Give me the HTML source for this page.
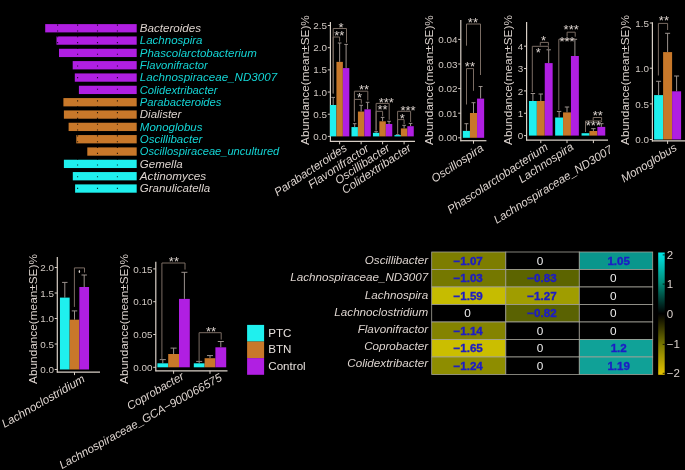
<!DOCTYPE html>
<html><head><meta charset="utf-8"><style>
html,body{margin:0;padding:0;background:#000;}
svg{display:block;will-change:transform;}
text{font-family:"Liberation Sans", sans-serif;}
</style></head><body>
<svg width="685" height="470" viewBox="0 0 685 470">
<rect width="685" height="470" fill="#000"/>
<rect x="45.20" y="24.10" width="91.50" height="8.30" fill="#b01fe2" />
<text x="139.80" y="32.10" font-size="11.5" fill="#ddd4cf" text-anchor="start" font-style="italic" textLength="61.23" lengthAdjust="spacingAndGlyphs">Bacteroides</text>
<rect x="56.50" y="36.43" width="80.20" height="8.30" fill="#b01fe2" />
<text x="139.80" y="44.43" font-size="11.5" fill="#14d4d4" text-anchor="start" font-style="italic">Lachnospira</text>
<rect x="59.00" y="48.76" width="77.70" height="8.30" fill="#b01fe2" />
<text x="139.80" y="56.76" font-size="11.5" fill="#14d4d4" text-anchor="start" font-style="italic">Phascolarctobacterium</text>
<rect x="72.70" y="61.09" width="64.00" height="8.30" fill="#b01fe2" />
<text x="139.80" y="69.09" font-size="11.5" fill="#14d4d4" text-anchor="start" font-style="italic" textLength="67.96" lengthAdjust="spacingAndGlyphs">Flavonifractor</text>
<rect x="74.80" y="73.42" width="61.90" height="8.30" fill="#b01fe2" />
<text x="139.80" y="81.42" font-size="11.5" fill="#14d4d4" text-anchor="start" font-style="italic" textLength="137.39" lengthAdjust="spacingAndGlyphs">Lachnospiraceae_ND3007</text>
<rect x="78.90" y="85.75" width="57.80" height="8.30" fill="#b01fe2" />
<text x="139.80" y="93.75" font-size="11.5" fill="#14d4d4" text-anchor="start" font-style="italic" textLength="77.70" lengthAdjust="spacingAndGlyphs">Colidextribacter</text>
<rect x="63.40" y="98.08" width="73.30" height="8.30" fill="#c8782a" />
<text x="139.80" y="106.08" font-size="11.5" fill="#14d4d4" text-anchor="start" font-style="italic" textLength="81.65" lengthAdjust="spacingAndGlyphs">Parabacteroides</text>
<rect x="63.90" y="110.41" width="72.80" height="8.30" fill="#c8782a" />
<text x="139.80" y="118.41" font-size="11.5" fill="#ddd4cf" text-anchor="start" font-style="italic">Dialister</text>
<rect x="68.60" y="122.74" width="68.10" height="8.30" fill="#c8782a" />
<text x="139.80" y="130.74" font-size="11.5" fill="#14d4d4" text-anchor="start" font-style="italic">Monoglobus</text>
<rect x="76.30" y="135.07" width="60.40" height="8.30" fill="#c8782a" />
<text x="139.80" y="143.07" font-size="11.5" fill="#14d4d4" text-anchor="start" font-style="italic">Oscillibacter</text>
<rect x="87.30" y="147.40" width="49.40" height="8.30" fill="#c8782a" />
<text x="139.80" y="155.40" font-size="11.5" fill="#14d4d4" text-anchor="start" font-style="italic" textLength="139.47" lengthAdjust="spacingAndGlyphs">Oscillospiraceae_uncultured</text>
<rect x="63.90" y="159.73" width="72.80" height="8.30" fill="#1ff0ee" />
<text x="139.80" y="167.73" font-size="11.5" fill="#ddd4cf" text-anchor="start" font-style="italic">Gemella</text>
<rect x="72.80" y="172.06" width="63.90" height="8.30" fill="#1ff0ee" />
<text x="139.80" y="180.06" font-size="11.5" fill="#ddd4cf" text-anchor="start" font-style="italic" textLength="66.39" lengthAdjust="spacingAndGlyphs">Actinomyces</text>
<rect x="75.10" y="184.39" width="61.60" height="8.30" fill="#1ff0ee" />
<text x="139.80" y="192.39" font-size="11.5" fill="#ddd4cf" text-anchor="start" font-style="italic">Granulicatella</text>
<line x1="57.6" y1="18.75" x2="57.6" y2="195" stroke="#000" stroke-opacity="0.8" stroke-width="1.1" stroke-dasharray="1.1 4.73"/>
<line x1="77.6" y1="18.75" x2="77.6" y2="195" stroke="#000" stroke-opacity="0.8" stroke-width="1.1" stroke-dasharray="1.1 4.73"/>
<line x1="97.5" y1="18.75" x2="97.5" y2="195" stroke="#000" stroke-opacity="0.8" stroke-width="1.1" stroke-dasharray="1.1 4.73"/>
<line x1="117.4" y1="18.75" x2="117.4" y2="195" stroke="#000" stroke-opacity="0.8" stroke-width="1.1" stroke-dasharray="1.1 4.73"/>
<text x="308.60" y="80.00" font-size="11.8" fill="#ddd4cf" text-anchor="middle" transform="rotate(-90 308.60 80.00)">Abundance(mean±SE)%</text>
<line x1="330.40" y1="22.00" x2="330.40" y2="141.80" stroke="#d9d0c7" stroke-width="1.2"/>
<line x1="329.90" y1="141.30" x2="415.00" y2="141.30" stroke="#d9d0c7" stroke-width="1.2"/>
<line x1="327.80" y1="136.40" x2="330.40" y2="136.40" stroke="#d9d0c7" stroke-width="1.0"/>
<text x="327.00" y="140.00" font-size="9.9" fill="#d0c8c2" text-anchor="end">0.0</text>
<line x1="327.80" y1="114.22" x2="330.40" y2="114.22" stroke="#d9d0c7" stroke-width="1.0"/>
<text x="327.00" y="117.82" font-size="9.9" fill="#d0c8c2" text-anchor="end">0.5</text>
<line x1="327.80" y1="92.04" x2="330.40" y2="92.04" stroke="#d9d0c7" stroke-width="1.0"/>
<text x="327.00" y="95.64" font-size="9.9" fill="#d0c8c2" text-anchor="end">1.0</text>
<line x1="327.80" y1="69.86" x2="330.40" y2="69.86" stroke="#d9d0c7" stroke-width="1.0"/>
<text x="327.00" y="73.46" font-size="9.9" fill="#d0c8c2" text-anchor="end">1.5</text>
<line x1="327.80" y1="47.68" x2="330.40" y2="47.68" stroke="#d9d0c7" stroke-width="1.0"/>
<text x="327.00" y="51.28" font-size="9.9" fill="#d0c8c2" text-anchor="end">2.0</text>
<line x1="327.80" y1="25.50" x2="330.40" y2="25.50" stroke="#d9d0c7" stroke-width="1.0"/>
<text x="327.00" y="29.10" font-size="9.9" fill="#d0c8c2" text-anchor="end">2.5</text>
<line x1="333.20" y1="97.40" x2="333.20" y2="104.99" stroke="#9a918c" stroke-width="1.0"/>
<line x1="331.39" y1="97.40" x2="335.01" y2="97.40" stroke="#9a918c" stroke-width="1.0"/>
<rect x="329.97" y="104.99" width="6.45" height="31.41" fill="#1ff0ee" />
<line x1="339.65" y1="43.00" x2="339.65" y2="61.88" stroke="#9a918c" stroke-width="1.0"/>
<line x1="337.84" y1="43.00" x2="341.46" y2="43.00" stroke="#9a918c" stroke-width="1.0"/>
<rect x="336.42" y="61.88" width="6.45" height="74.52" fill="#c8782a" />
<line x1="346.10" y1="44.40" x2="346.10" y2="68.09" stroke="#9a918c" stroke-width="1.0"/>
<line x1="344.29" y1="44.40" x2="347.91" y2="44.40" stroke="#9a918c" stroke-width="1.0"/>
<rect x="342.87" y="68.09" width="6.45" height="68.31" fill="#b01fe2" />
<line x1="339.65" y1="141.30" x2="339.65" y2="144.30" stroke="#d9d0c7" stroke-width="1.0"/>
<line x1="354.70" y1="123.70" x2="354.70" y2="127.08" stroke="#9a918c" stroke-width="1.0"/>
<line x1="352.89" y1="123.70" x2="356.51" y2="123.70" stroke="#9a918c" stroke-width="1.0"/>
<rect x="351.47" y="127.08" width="6.45" height="9.32" fill="#1ff0ee" />
<line x1="361.15" y1="105.30" x2="361.15" y2="111.56" stroke="#9a918c" stroke-width="1.0"/>
<line x1="359.34" y1="105.30" x2="362.96" y2="105.30" stroke="#9a918c" stroke-width="1.0"/>
<rect x="357.92" y="111.56" width="6.45" height="24.84" fill="#c8782a" />
<line x1="367.60" y1="102.30" x2="367.60" y2="109.34" stroke="#9a918c" stroke-width="1.0"/>
<line x1="365.79" y1="102.30" x2="369.41" y2="102.30" stroke="#9a918c" stroke-width="1.0"/>
<rect x="364.37" y="109.34" width="6.45" height="27.06" fill="#b01fe2" />
<line x1="361.15" y1="141.30" x2="361.15" y2="144.30" stroke="#d9d0c7" stroke-width="1.0"/>
<line x1="376.15" y1="131.70" x2="376.15" y2="132.85" stroke="#9a918c" stroke-width="1.0"/>
<line x1="374.34" y1="131.70" x2="377.96" y2="131.70" stroke="#9a918c" stroke-width="1.0"/>
<rect x="372.93" y="132.85" width="6.45" height="3.55" fill="#1ff0ee" />
<line x1="382.60" y1="117.40" x2="382.60" y2="121.32" stroke="#9a918c" stroke-width="1.0"/>
<line x1="380.79" y1="117.40" x2="384.41" y2="117.40" stroke="#9a918c" stroke-width="1.0"/>
<rect x="379.38" y="121.32" width="6.45" height="15.08" fill="#c8782a" />
<line x1="389.05" y1="121.30" x2="389.05" y2="123.98" stroke="#9a918c" stroke-width="1.0"/>
<line x1="387.24" y1="121.30" x2="390.86" y2="121.30" stroke="#9a918c" stroke-width="1.0"/>
<rect x="385.82" y="123.98" width="6.45" height="12.42" fill="#b01fe2" />
<line x1="382.60" y1="141.30" x2="382.60" y2="144.30" stroke="#d9d0c7" stroke-width="1.0"/>
<line x1="397.65" y1="134.70" x2="397.65" y2="135.07" stroke="#9a918c" stroke-width="1.0"/>
<line x1="395.84" y1="134.70" x2="399.46" y2="134.70" stroke="#9a918c" stroke-width="1.0"/>
<rect x="394.43" y="135.07" width="6.45" height="1.33" fill="#1ff0ee" />
<line x1="404.10" y1="125.30" x2="404.10" y2="128.42" stroke="#9a918c" stroke-width="1.0"/>
<line x1="402.29" y1="125.30" x2="405.91" y2="125.30" stroke="#9a918c" stroke-width="1.0"/>
<rect x="400.88" y="128.42" width="6.45" height="7.98" fill="#c8782a" />
<line x1="410.55" y1="123.40" x2="410.55" y2="126.20" stroke="#9a918c" stroke-width="1.0"/>
<line x1="408.74" y1="123.40" x2="412.36" y2="123.40" stroke="#9a918c" stroke-width="1.0"/>
<rect x="407.32" y="126.20" width="6.45" height="10.20" fill="#b01fe2" />
<line x1="404.10" y1="141.30" x2="404.10" y2="144.30" stroke="#d9d0c7" stroke-width="1.0"/>
<polyline points="333.20,93.50 333.20,28.50 346.50,28.50 346.50,42.70" fill="none" stroke="#7a6c63" stroke-width="1.0"/>
<polyline points="333.20,93.50 333.20,37.00 339.60,37.00 339.60,41.50" fill="none" stroke="#7a6c63" stroke-width="1.0"/>
<polyline points="354.40,121.50 354.40,91.20 367.80,91.20 367.80,100.40" fill="none" stroke="#7a6c63" stroke-width="1.0"/>
<polyline points="354.40,121.50 354.40,99.40 361.30,99.40 361.30,103.60" fill="none" stroke="#7a6c63" stroke-width="1.0"/>
<polyline points="376.10,130.50 376.10,103.40 389.20,103.40 389.20,119.80" fill="none" stroke="#7a6c63" stroke-width="1.0"/>
<polyline points="376.10,130.50 376.10,111.30 382.60,111.30 382.60,116.20" fill="none" stroke="#7a6c63" stroke-width="1.0"/>
<polyline points="397.60,133.70 397.60,111.30 410.60,111.30 410.60,122.00" fill="none" stroke="#7a6c63" stroke-width="1.0"/>
<polyline points="397.60,133.70 397.60,119.60 404.10,119.60 404.10,124.00" fill="none" stroke="#7a6c63" stroke-width="1.0"/>
<text x="341.00" y="31.80" font-size="13" fill="#ddd4cf" text-anchor="middle">*</text>
<text x="339.20" y="40.30" font-size="13" fill="#ddd4cf" text-anchor="middle">**</text>
<text x="364.00" y="93.80" font-size="13" fill="#ddd4cf" text-anchor="middle">**</text>
<text x="359.50" y="102.30" font-size="13" fill="#ddd4cf" text-anchor="middle">*</text>
<text x="386.30" y="106.50" font-size="13" fill="#ddd4cf" text-anchor="middle">***</text>
<text x="382.50" y="114.30" font-size="13" fill="#ddd4cf" text-anchor="middle">**</text>
<text x="408.00" y="114.50" font-size="13" fill="#ddd4cf" text-anchor="middle">***</text>
<text x="402.30" y="122.80" font-size="13" fill="#ddd4cf" text-anchor="middle">*</text>
<text x="347.85" y="149.80" font-size="11.6" fill="#ddd4cf" text-anchor="end" font-style="italic" transform="rotate(-33.5 347.85 149.80)">Parabacteroides</text>
<text x="369.75" y="150.30" font-size="11.6" fill="#ddd4cf" text-anchor="end" font-style="italic" transform="rotate(-33.5 369.75 150.30)">Flavonifractor</text>
<text x="390.80" y="149.80" font-size="11.6" fill="#ddd4cf" text-anchor="end" font-style="italic" transform="rotate(-33.5 390.80 149.80)">Oscillibacter</text>
<text x="412.10" y="149.80" font-size="11.6" fill="#ddd4cf" text-anchor="end" font-style="italic" transform="rotate(-33.5 412.10 149.80)">Colidextribacter</text>
<text x="432.60" y="80.00" font-size="11.8" fill="#ddd4cf" text-anchor="middle" transform="rotate(-90 432.60 80.00)">Abundance(mean±SE)%</text>
<line x1="460.80" y1="20.10" x2="460.80" y2="141.20" stroke="#d9d0c7" stroke-width="1.2"/>
<line x1="460.30" y1="140.70" x2="486.40" y2="140.70" stroke="#d9d0c7" stroke-width="1.2"/>
<line x1="458.20" y1="137.80" x2="460.80" y2="137.80" stroke="#d9d0c7" stroke-width="1.0"/>
<text x="457.40" y="141.40" font-size="9.9" fill="#d0c8c2" text-anchor="end">0.00</text>
<line x1="458.20" y1="113.20" x2="460.80" y2="113.20" stroke="#d9d0c7" stroke-width="1.0"/>
<text x="457.40" y="116.80" font-size="9.9" fill="#d0c8c2" text-anchor="end">0.01</text>
<line x1="458.20" y1="88.60" x2="460.80" y2="88.60" stroke="#d9d0c7" stroke-width="1.0"/>
<text x="457.40" y="92.20" font-size="9.9" fill="#d0c8c2" text-anchor="end">0.02</text>
<line x1="458.20" y1="64.00" x2="460.80" y2="64.00" stroke="#d9d0c7" stroke-width="1.0"/>
<text x="457.40" y="67.60" font-size="9.9" fill="#d0c8c2" text-anchor="end">0.03</text>
<line x1="458.20" y1="39.40" x2="460.80" y2="39.40" stroke="#d9d0c7" stroke-width="1.0"/>
<text x="457.40" y="43.00" font-size="9.9" fill="#d0c8c2" text-anchor="end">0.04</text>
<line x1="466.40" y1="123.70" x2="466.40" y2="130.90" stroke="#9a918c" stroke-width="1.0"/>
<line x1="464.41" y1="123.70" x2="468.39" y2="123.70" stroke="#9a918c" stroke-width="1.0"/>
<rect x="462.85" y="130.90" width="7.10" height="6.90" fill="#1ff0ee" />
<line x1="473.50" y1="102.70" x2="473.50" y2="113.00" stroke="#9a918c" stroke-width="1.0"/>
<line x1="471.51" y1="102.70" x2="475.49" y2="102.70" stroke="#9a918c" stroke-width="1.0"/>
<rect x="469.95" y="113.00" width="7.10" height="24.80" fill="#c8782a" />
<line x1="480.60" y1="86.50" x2="480.60" y2="98.60" stroke="#9a918c" stroke-width="1.0"/>
<line x1="478.61" y1="86.50" x2="482.59" y2="86.50" stroke="#9a918c" stroke-width="1.0"/>
<rect x="477.05" y="98.60" width="7.10" height="39.20" fill="#b01fe2" />
<line x1="473.50" y1="140.70" x2="473.50" y2="143.70" stroke="#d9d0c7" stroke-width="1.0"/>
<polyline points="466.50,45.70 466.50,24.00 480.50,24.00 480.50,75.00" fill="none" stroke="#7a6c63" stroke-width="1.0"/>
<polyline points="466.50,104.50 466.50,68.60 473.50,68.60 473.50,90.80" fill="none" stroke="#7a6c63" stroke-width="1.0"/>
<text x="472.90" y="27.00" font-size="13" fill="#ddd4cf" text-anchor="middle">**</text>
<text x="469.90" y="71.30" font-size="13" fill="#ddd4cf" text-anchor="middle">**</text>
<text x="484.50" y="150.00" font-size="11.6" fill="#ddd4cf" text-anchor="end" font-style="italic" transform="rotate(-33.5 484.50 150.00)">Oscillospira</text>
<text x="511.80" y="80.00" font-size="11.8" fill="#ddd4cf" text-anchor="middle" transform="rotate(-90 511.80 80.00)">Abundance(mean±SE)%</text>
<line x1="526.60" y1="22.00" x2="526.60" y2="140.60" stroke="#d9d0c7" stroke-width="1.2"/>
<line x1="526.10" y1="140.10" x2="608.00" y2="140.10" stroke="#d9d0c7" stroke-width="1.2"/>
<line x1="524.00" y1="135.60" x2="526.60" y2="135.60" stroke="#d9d0c7" stroke-width="1.0"/>
<text x="523.20" y="139.20" font-size="9.9" fill="#d0c8c2" text-anchor="end">0</text>
<line x1="524.00" y1="113.25" x2="526.60" y2="113.25" stroke="#d9d0c7" stroke-width="1.0"/>
<text x="523.20" y="116.85" font-size="9.9" fill="#d0c8c2" text-anchor="end">1</text>
<line x1="524.00" y1="90.90" x2="526.60" y2="90.90" stroke="#d9d0c7" stroke-width="1.0"/>
<text x="523.20" y="94.50" font-size="9.9" fill="#d0c8c2" text-anchor="end">2</text>
<line x1="524.00" y1="68.55" x2="526.60" y2="68.55" stroke="#d9d0c7" stroke-width="1.0"/>
<text x="523.20" y="72.15" font-size="9.9" fill="#d0c8c2" text-anchor="end">3</text>
<line x1="524.00" y1="46.20" x2="526.60" y2="46.20" stroke="#d9d0c7" stroke-width="1.0"/>
<text x="523.20" y="49.80" font-size="9.9" fill="#d0c8c2" text-anchor="end">4</text>
<line x1="532.90" y1="93.50" x2="532.90" y2="101.00" stroke="#9a918c" stroke-width="1.0"/>
<line x1="530.69" y1="93.50" x2="535.11" y2="93.50" stroke="#9a918c" stroke-width="1.0"/>
<rect x="528.95" y="101.00" width="7.90" height="34.60" fill="#1ff0ee" />
<line x1="540.80" y1="94.00" x2="540.80" y2="101.00" stroke="#9a918c" stroke-width="1.0"/>
<line x1="538.59" y1="94.00" x2="543.01" y2="94.00" stroke="#9a918c" stroke-width="1.0"/>
<rect x="536.85" y="101.00" width="7.90" height="34.60" fill="#c8782a" />
<line x1="548.70" y1="49.80" x2="548.70" y2="63.10" stroke="#9a918c" stroke-width="1.0"/>
<line x1="546.49" y1="49.80" x2="550.91" y2="49.80" stroke="#9a918c" stroke-width="1.0"/>
<rect x="544.75" y="63.10" width="7.90" height="72.50" fill="#b01fe2" />
<line x1="540.80" y1="140.10" x2="540.80" y2="143.10" stroke="#d9d0c7" stroke-width="1.0"/>
<line x1="559.10" y1="111.40" x2="559.10" y2="117.50" stroke="#9a918c" stroke-width="1.0"/>
<line x1="556.89" y1="111.40" x2="561.31" y2="111.40" stroke="#9a918c" stroke-width="1.0"/>
<rect x="555.15" y="117.50" width="7.90" height="18.10" fill="#1ff0ee" />
<line x1="567.00" y1="107.00" x2="567.00" y2="112.40" stroke="#9a918c" stroke-width="1.0"/>
<line x1="564.79" y1="107.00" x2="569.21" y2="107.00" stroke="#9a918c" stroke-width="1.0"/>
<rect x="563.05" y="112.40" width="7.90" height="23.20" fill="#c8782a" />
<line x1="574.90" y1="39.30" x2="574.90" y2="56.00" stroke="#9a918c" stroke-width="1.0"/>
<line x1="572.69" y1="39.30" x2="577.11" y2="39.30" stroke="#9a918c" stroke-width="1.0"/>
<rect x="570.95" y="56.00" width="7.90" height="79.60" fill="#b01fe2" />
<line x1="567.00" y1="140.10" x2="567.00" y2="143.10" stroke="#d9d0c7" stroke-width="1.0"/>
<rect x="581.55" y="133.20" width="7.90" height="2.40" fill="#1ff0ee" />
<line x1="593.40" y1="128.70" x2="593.40" y2="131.00" stroke="#9a918c" stroke-width="1.0"/>
<line x1="591.19" y1="128.70" x2="595.61" y2="128.70" stroke="#9a918c" stroke-width="1.0"/>
<rect x="589.45" y="131.00" width="7.90" height="4.60" fill="#c8782a" />
<line x1="601.30" y1="123.70" x2="601.30" y2="126.90" stroke="#9a918c" stroke-width="1.0"/>
<line x1="599.09" y1="123.70" x2="603.51" y2="123.70" stroke="#9a918c" stroke-width="1.0"/>
<rect x="597.35" y="126.90" width="7.90" height="8.70" fill="#b01fe2" />
<line x1="593.40" y1="140.10" x2="593.40" y2="143.10" stroke="#d9d0c7" stroke-width="1.0"/>
<polyline points="532.30,92.00 532.30,46.30 548.40,46.30 548.40,49.00" fill="none" stroke="#7a6c63" stroke-width="1.0"/>
<polyline points="540.30,45.60 540.30,42.40 548.40,42.40 548.40,45.60" fill="none" stroke="#7a6c63" stroke-width="1.0"/>
<polyline points="558.80,110.00 558.80,39.30 575.20,39.30 575.20,39.30" fill="none" stroke="#7a6c63" stroke-width="1.0"/>
<polyline points="567.10,36.70 567.10,32.20 575.20,32.20 575.20,36.70" fill="none" stroke="#7a6c63" stroke-width="1.0"/>
<polyline points="585.50,132.00 585.50,121.00 601.60,121.00 601.60,122.00" fill="none" stroke="#7a6c63" stroke-width="1.0"/>
<polyline points="593.20,120.50 593.20,117.50 601.60,117.50 601.60,120.50" fill="none" stroke="#7a6c63" stroke-width="1.0"/>
<text x="543.50" y="45.30" font-size="13" fill="#ddd4cf" text-anchor="middle">*</text>
<text x="538.40" y="56.50" font-size="13" fill="#ddd4cf" text-anchor="middle">*</text>
<text x="571.20" y="34.00" font-size="13" fill="#ddd4cf" text-anchor="middle">***</text>
<text x="567.10" y="45.70" font-size="13" fill="#ddd4cf" text-anchor="middle">***</text>
<text x="597.80" y="120.10" font-size="13" fill="#ddd4cf" text-anchor="middle">**</text>
<text x="593.30" y="130.30" font-size="13" fill="#ddd4cf" text-anchor="middle">***</text>
<text x="548.80" y="149.00" font-size="11.6" fill="#ddd4cf" text-anchor="end" font-style="italic" transform="rotate(-33.5 548.80 149.00)">Phascolarctobacterium</text>
<text x="574.40" y="148.60" font-size="11.6" fill="#ddd4cf" text-anchor="end" font-style="italic" transform="rotate(-33.5 574.40 148.60)">Lachnospira</text>
<text x="613.40" y="151.70" font-size="11.6" fill="#ddd4cf" text-anchor="end" font-style="italic" transform="rotate(-31.8 613.40 151.70)">Lachnospiraceae_ND3007</text>
<text x="628.50" y="80.00" font-size="11.8" fill="#ddd4cf" text-anchor="middle" transform="rotate(-90 628.50 80.00)">Abundance(mean±SE)%</text>
<line x1="652.40" y1="22.30" x2="652.40" y2="141.40" stroke="#d9d0c7" stroke-width="1.2"/>
<line x1="651.90" y1="140.90" x2="686.00" y2="140.90" stroke="#d9d0c7" stroke-width="1.2"/>
<line x1="649.80" y1="139.50" x2="652.40" y2="139.50" stroke="#d9d0c7" stroke-width="1.0"/>
<text x="649.00" y="143.10" font-size="9.9" fill="#d0c8c2" text-anchor="end">0.0</text>
<line x1="649.80" y1="103.90" x2="652.40" y2="103.90" stroke="#d9d0c7" stroke-width="1.0"/>
<text x="649.00" y="107.50" font-size="9.9" fill="#d0c8c2" text-anchor="end">0.5</text>
<line x1="649.80" y1="68.20" x2="652.40" y2="68.20" stroke="#d9d0c7" stroke-width="1.0"/>
<text x="649.00" y="71.80" font-size="9.9" fill="#d0c8c2" text-anchor="end">1.0</text>
<line x1="649.80" y1="23.00" x2="652.40" y2="23.00" stroke="#d9d0c7" stroke-width="1.0"/>
<text x="649.00" y="26.60" font-size="9.9" fill="#d0c8c2" text-anchor="end">1.5</text>
<line x1="658.60" y1="81.30" x2="658.60" y2="95.10" stroke="#9a918c" stroke-width="1.0"/>
<line x1="656.08" y1="81.30" x2="661.12" y2="81.30" stroke="#9a918c" stroke-width="1.0"/>
<rect x="654.10" y="95.10" width="9.00" height="44.40" fill="#1ff0ee" />
<line x1="667.60" y1="33.30" x2="667.60" y2="52.10" stroke="#9a918c" stroke-width="1.0"/>
<line x1="665.08" y1="33.30" x2="670.12" y2="33.30" stroke="#9a918c" stroke-width="1.0"/>
<rect x="663.10" y="52.10" width="9.00" height="87.40" fill="#c8782a" />
<line x1="676.60" y1="76.00" x2="676.60" y2="91.30" stroke="#9a918c" stroke-width="1.0"/>
<line x1="674.08" y1="76.00" x2="679.12" y2="76.00" stroke="#9a918c" stroke-width="1.0"/>
<rect x="672.10" y="91.30" width="9.00" height="48.20" fill="#b01fe2" />
<line x1="667.60" y1="140.90" x2="667.60" y2="143.90" stroke="#d9d0c7" stroke-width="1.0"/>
<polyline points="658.40,75.50 658.40,23.40 667.60,23.40 667.60,30.00" fill="none" stroke="#7a6c63" stroke-width="1.0"/>
<text x="663.90" y="24.80" font-size="13" fill="#ddd4cf" text-anchor="middle">**</text>
<text x="677.80" y="149.80" font-size="11.6" fill="#ddd4cf" text-anchor="end" font-style="italic" transform="rotate(-31.5 677.80 149.80)">Monoglobus</text>
<text x="36.50" y="319.00" font-size="11.8" fill="#ddd4cf" text-anchor="middle" transform="rotate(-90 36.50 319.00)">Abundance(mean±SE)%</text>
<line x1="57.30" y1="257.00" x2="57.30" y2="372.60" stroke="#d9d0c7" stroke-width="1.2"/>
<line x1="56.80" y1="372.10" x2="100.00" y2="372.10" stroke="#d9d0c7" stroke-width="1.2"/>
<line x1="54.70" y1="369.50" x2="57.30" y2="369.50" stroke="#d9d0c7" stroke-width="1.0"/>
<text x="53.90" y="373.10" font-size="9.9" fill="#d0c8c2" text-anchor="end">0.0</text>
<line x1="54.70" y1="344.00" x2="57.30" y2="344.00" stroke="#d9d0c7" stroke-width="1.0"/>
<text x="53.90" y="347.60" font-size="9.9" fill="#d0c8c2" text-anchor="end">0.5</text>
<line x1="54.70" y1="318.50" x2="57.30" y2="318.50" stroke="#d9d0c7" stroke-width="1.0"/>
<text x="53.90" y="322.10" font-size="9.9" fill="#d0c8c2" text-anchor="end">1.0</text>
<line x1="54.70" y1="293.00" x2="57.30" y2="293.00" stroke="#d9d0c7" stroke-width="1.0"/>
<text x="53.90" y="296.60" font-size="9.9" fill="#d0c8c2" text-anchor="end">1.5</text>
<line x1="54.70" y1="267.50" x2="57.30" y2="267.50" stroke="#d9d0c7" stroke-width="1.0"/>
<text x="53.90" y="271.10" font-size="9.9" fill="#d0c8c2" text-anchor="end">2.0</text>
<line x1="64.80" y1="282.40" x2="64.80" y2="297.60" stroke="#9a918c" stroke-width="1.0"/>
<line x1="62.08" y1="282.40" x2="67.52" y2="282.40" stroke="#9a918c" stroke-width="1.0"/>
<rect x="59.95" y="297.60" width="9.70" height="71.90" fill="#1ff0ee" />
<line x1="74.50" y1="310.90" x2="74.50" y2="319.70" stroke="#9a918c" stroke-width="1.0"/>
<line x1="71.78" y1="310.90" x2="77.22" y2="310.90" stroke="#9a918c" stroke-width="1.0"/>
<rect x="69.65" y="319.70" width="9.70" height="49.80" fill="#c8782a" />
<line x1="84.20" y1="275.00" x2="84.20" y2="287.00" stroke="#9a918c" stroke-width="1.0"/>
<line x1="81.48" y1="275.00" x2="86.92" y2="275.00" stroke="#9a918c" stroke-width="1.0"/>
<rect x="79.35" y="287.00" width="9.70" height="82.50" fill="#b01fe2" />
<line x1="74.50" y1="372.10" x2="74.50" y2="375.10" stroke="#d9d0c7" stroke-width="1.0"/>
<polyline points="74.40,306.90 74.40,267.90 84.50,267.90 84.50,272.60" fill="none" stroke="#7a6c63" stroke-width="1.0"/>
<text x="85.70" y="381.20" font-size="11.65" fill="#ddd4cf" text-anchor="end" font-style="italic" transform="rotate(-30 85.70 381.20)">Lachnoclostridium</text>
<ellipse cx="79.4" cy="271.5" rx="0.7" ry="1.5" fill="#d8d0ca"/>
<text x="127.80" y="319.00" font-size="11.8" fill="#ddd4cf" text-anchor="middle" transform="rotate(-90 127.80 319.00)">Abundance(mean±SE)%</text>
<line x1="155.80" y1="261.70" x2="155.80" y2="371.30" stroke="#d9d0c7" stroke-width="1.2"/>
<line x1="155.30" y1="370.80" x2="227.50" y2="370.80" stroke="#d9d0c7" stroke-width="1.2"/>
<line x1="153.20" y1="367.30" x2="155.80" y2="367.30" stroke="#d9d0c7" stroke-width="1.0"/>
<text x="152.40" y="370.90" font-size="9.9" fill="#d0c8c2" text-anchor="end">0.00</text>
<line x1="153.20" y1="334.50" x2="155.80" y2="334.50" stroke="#d9d0c7" stroke-width="1.0"/>
<text x="152.40" y="338.10" font-size="9.9" fill="#d0c8c2" text-anchor="end">0.05</text>
<line x1="153.20" y1="301.70" x2="155.80" y2="301.70" stroke="#d9d0c7" stroke-width="1.0"/>
<text x="152.40" y="305.30" font-size="9.9" fill="#d0c8c2" text-anchor="end">0.10</text>
<line x1="153.20" y1="268.90" x2="155.80" y2="268.90" stroke="#d9d0c7" stroke-width="1.0"/>
<text x="152.40" y="272.50" font-size="9.9" fill="#d0c8c2" text-anchor="end">0.15</text>
<line x1="162.80" y1="359.60" x2="162.80" y2="363.30" stroke="#9a918c" stroke-width="1.0"/>
<line x1="159.78" y1="359.60" x2="165.82" y2="359.60" stroke="#9a918c" stroke-width="1.0"/>
<rect x="157.40" y="363.30" width="10.80" height="4.00" fill="#1ff0ee" />
<line x1="173.60" y1="348.10" x2="173.60" y2="354.00" stroke="#9a918c" stroke-width="1.0"/>
<line x1="170.58" y1="348.10" x2="176.62" y2="348.10" stroke="#9a918c" stroke-width="1.0"/>
<rect x="168.20" y="354.00" width="10.80" height="13.30" fill="#c8782a" />
<line x1="184.40" y1="272.30" x2="184.40" y2="298.90" stroke="#9a918c" stroke-width="1.0"/>
<line x1="181.38" y1="272.30" x2="187.42" y2="272.30" stroke="#9a918c" stroke-width="1.0"/>
<rect x="179.00" y="298.90" width="10.80" height="68.40" fill="#b01fe2" />
<line x1="173.60" y1="370.80" x2="173.60" y2="373.80" stroke="#d9d0c7" stroke-width="1.0"/>
<line x1="199.20" y1="361.40" x2="199.20" y2="363.30" stroke="#9a918c" stroke-width="1.0"/>
<line x1="196.18" y1="361.40" x2="202.22" y2="361.40" stroke="#9a918c" stroke-width="1.0"/>
<rect x="193.80" y="363.30" width="10.80" height="4.00" fill="#1ff0ee" />
<line x1="210.00" y1="355.60" x2="210.00" y2="358.20" stroke="#9a918c" stroke-width="1.0"/>
<line x1="206.98" y1="355.60" x2="213.02" y2="355.60" stroke="#9a918c" stroke-width="1.0"/>
<rect x="204.60" y="358.20" width="10.80" height="9.10" fill="#c8782a" />
<line x1="220.80" y1="341.50" x2="220.80" y2="347.30" stroke="#9a918c" stroke-width="1.0"/>
<line x1="217.78" y1="341.50" x2="223.82" y2="341.50" stroke="#9a918c" stroke-width="1.0"/>
<rect x="215.40" y="347.30" width="10.80" height="20.00" fill="#b01fe2" />
<line x1="210.00" y1="370.80" x2="210.00" y2="373.80" stroke="#d9d0c7" stroke-width="1.0"/>
<polyline points="161.90,360.10 161.90,263.00 185.00,263.00 185.00,269.60" fill="none" stroke="#7a6c63" stroke-width="1.0"/>
<polyline points="199.10,361.40 199.10,332.70 221.20,332.70 221.20,339.60" fill="none" stroke="#7a6c63" stroke-width="1.0"/>
<text x="173.90" y="265.80" font-size="13" fill="#ddd4cf" text-anchor="middle">**</text>
<text x="211.10" y="335.60" font-size="13" fill="#ddd4cf" text-anchor="middle">**</text>
<text x="184.80" y="378.50" font-size="11.55" fill="#ddd4cf" text-anchor="end" font-style="italic" transform="rotate(-30 184.80 378.50)">Coprobacter</text>
<text x="222.80" y="380.00" font-size="11.55" fill="#ddd4cf" text-anchor="end" font-style="italic" transform="rotate(-29 222.80 380.00)">Lachnospiraceae_GCA−900066575</text>
<rect x="247.10" y="324.90" width="17.00" height="16.70" fill="#1ff0ee" />
<rect x="247.10" y="341.50" width="17.00" height="16.70" fill="#c8782a" />
<rect x="247.10" y="358.10" width="17.00" height="16.70" fill="#b01fe2" />
<text x="268.30" y="337.00" font-size="11.6" fill="#e6e0dc" text-anchor="start">PTC</text>
<text x="268.30" y="353.40" font-size="11.6" fill="#e6e0dc" text-anchor="start">BTN</text>
<text x="268.30" y="369.80" font-size="11.6" fill="#e6e0dc" text-anchor="start">Control</text>
<rect x="431.70" y="252.00" width="74.10" height="17.50" fill="#7d7d00" stroke="#a4a298" stroke-width="0.8"/>
<text x="468.15" y="264.65" font-size="11.6" fill="#1c1cc6" text-anchor="middle" font-weight="bold" stroke="#1c1cc6" stroke-width="0.35">−1.07</text>
<rect x="505.80" y="252.00" width="73.50" height="17.50" fill="#000000" stroke="#a4a298" stroke-width="0.8"/>
<text x="539.95" y="264.95" font-size="11.8" fill="#eeeeee" text-anchor="middle">0</text>
<rect x="579.30" y="252.00" width="73.40" height="17.50" fill="#0a968c" stroke="#a4a298" stroke-width="0.8"/>
<text x="618.70" y="264.65" font-size="11.6" fill="#1c1cc6" text-anchor="middle" font-weight="bold" stroke="#1c1cc6" stroke-width="0.35">1.05</text>
<text x="428.20" y="264.20" font-size="11.65" fill="#ddd4cf" text-anchor="end" font-style="italic">Oscillibacter</text>
<rect x="431.70" y="269.50" width="74.10" height="17.50" fill="#757800" stroke="#a4a298" stroke-width="0.8"/>
<text x="468.15" y="282.15" font-size="11.6" fill="#1c1cc6" text-anchor="middle" font-weight="bold" stroke="#1c1cc6" stroke-width="0.35">−1.03</text>
<rect x="505.80" y="269.50" width="73.50" height="17.50" fill="#5c6400" stroke="#a4a298" stroke-width="0.8"/>
<text x="541.95" y="282.15" font-size="11.6" fill="#1c1cc6" text-anchor="middle" font-weight="bold" stroke="#1c1cc6" stroke-width="0.35">−0.83</text>
<rect x="579.30" y="269.50" width="73.40" height="17.50" fill="#000000" stroke="#a4a298" stroke-width="0.8"/>
<text x="613.40" y="282.45" font-size="11.8" fill="#eeeeee" text-anchor="middle">0</text>
<text x="428.20" y="281.40" font-size="11.65" fill="#ddd4cf" text-anchor="end" font-style="italic">Lachnospiraceae_ND3007</text>
<rect x="431.70" y="287.00" width="74.10" height="17.50" fill="#c6bc00" stroke="#a4a298" stroke-width="0.8"/>
<text x="468.15" y="299.65" font-size="11.6" fill="#1c1cc6" text-anchor="middle" font-weight="bold" stroke="#1c1cc6" stroke-width="0.35">−1.59</text>
<rect x="505.80" y="287.00" width="73.50" height="17.50" fill="#a09d00" stroke="#a4a298" stroke-width="0.8"/>
<text x="541.95" y="299.65" font-size="11.6" fill="#1c1cc6" text-anchor="middle" font-weight="bold" stroke="#1c1cc6" stroke-width="0.35">−1.27</text>
<rect x="579.30" y="287.00" width="73.40" height="17.50" fill="#000000" stroke="#a4a298" stroke-width="0.8"/>
<text x="613.40" y="299.95" font-size="11.8" fill="#eeeeee" text-anchor="middle">0</text>
<text x="428.20" y="298.60" font-size="11.65" fill="#ddd4cf" text-anchor="end" font-style="italic">Lachnospira</text>
<rect x="431.70" y="304.50" width="74.10" height="17.50" fill="#000000" stroke="#a4a298" stroke-width="0.8"/>
<text x="467.45" y="317.45" font-size="11.8" fill="#eeeeee" text-anchor="middle">0</text>
<rect x="505.80" y="304.50" width="73.50" height="17.50" fill="#5a6202" stroke="#a4a298" stroke-width="0.8"/>
<text x="541.95" y="317.15" font-size="11.6" fill="#1c1cc6" text-anchor="middle" font-weight="bold" stroke="#1c1cc6" stroke-width="0.35">−0.82</text>
<rect x="579.30" y="304.50" width="73.40" height="17.50" fill="#000000" stroke="#a4a298" stroke-width="0.8"/>
<text x="613.40" y="317.45" font-size="11.8" fill="#eeeeee" text-anchor="middle">0</text>
<text x="428.20" y="315.80" font-size="11.65" fill="#ddd4cf" text-anchor="end" font-style="italic">Lachnoclostridium</text>
<rect x="431.70" y="322.00" width="74.10" height="17.50" fill="#848300" stroke="#a4a298" stroke-width="0.8"/>
<text x="468.15" y="334.65" font-size="11.6" fill="#1c1cc6" text-anchor="middle" font-weight="bold" stroke="#1c1cc6" stroke-width="0.35">−1.14</text>
<rect x="505.80" y="322.00" width="73.50" height="17.50" fill="#000000" stroke="#a4a298" stroke-width="0.8"/>
<text x="539.95" y="334.95" font-size="11.8" fill="#eeeeee" text-anchor="middle">0</text>
<rect x="579.30" y="322.00" width="73.40" height="17.50" fill="#000000" stroke="#a4a298" stroke-width="0.8"/>
<text x="613.40" y="334.95" font-size="11.8" fill="#eeeeee" text-anchor="middle">0</text>
<text x="428.20" y="333.00" font-size="11.65" fill="#ddd4cf" text-anchor="end" font-style="italic">Flavonifractor</text>
<rect x="431.70" y="339.50" width="74.10" height="17.50" fill="#cbbe00" stroke="#a4a298" stroke-width="0.8"/>
<text x="468.15" y="352.15" font-size="11.6" fill="#1c1cc6" text-anchor="middle" font-weight="bold" stroke="#1c1cc6" stroke-width="0.35">−1.65</text>
<rect x="505.80" y="339.50" width="73.50" height="17.50" fill="#000000" stroke="#a4a298" stroke-width="0.8"/>
<text x="539.95" y="352.45" font-size="11.8" fill="#eeeeee" text-anchor="middle">0</text>
<rect x="579.30" y="339.50" width="73.40" height="17.50" fill="#10a298" stroke="#a4a298" stroke-width="0.8"/>
<text x="618.70" y="352.15" font-size="11.6" fill="#1c1cc6" text-anchor="middle" font-weight="bold" stroke="#1c1cc6" stroke-width="0.35">1.2</text>
<text x="428.20" y="350.20" font-size="11.65" fill="#ddd4cf" text-anchor="end" font-style="italic">Coprobacter</text>
<rect x="431.70" y="357.00" width="74.10" height="17.50" fill="#8e8d00" stroke="#a4a298" stroke-width="0.8"/>
<text x="468.15" y="369.65" font-size="11.6" fill="#1c1cc6" text-anchor="middle" font-weight="bold" stroke="#1c1cc6" stroke-width="0.35">−1.24</text>
<rect x="505.80" y="357.00" width="73.50" height="17.50" fill="#000000" stroke="#a4a298" stroke-width="0.8"/>
<text x="539.95" y="369.95" font-size="11.8" fill="#eeeeee" text-anchor="middle">0</text>
<rect x="579.30" y="357.00" width="73.40" height="17.50" fill="#10a197" stroke="#a4a298" stroke-width="0.8"/>
<text x="618.70" y="369.65" font-size="11.6" fill="#1c1cc6" text-anchor="middle" font-weight="bold" stroke="#1c1cc6" stroke-width="0.35">1.19</text>
<text x="428.20" y="367.40" font-size="11.65" fill="#ddd4cf" text-anchor="end" font-style="italic">Colidextribacter</text>
<defs><linearGradient id="cb" x1="0" y1="0" x2="0" y2="1"><stop offset="0" stop-color="#00e6e6"/><stop offset="0.25" stop-color="#008c78"/><stop offset="0.5" stop-color="#000"/><stop offset="0.75" stop-color="#777600"/><stop offset="1" stop-color="#e6c300"/></linearGradient></defs>
<rect x="658.20" y="252.50" width="6.50" height="122.30" fill="url(#cb)" />
<line x1="662.70" y1="254.90" x2="664.70" y2="254.90" stroke="#000" stroke-width="0.8"/>
<text x="666.80" y="258.90" font-size="11.5" fill="#ddd4cf" text-anchor="start">2</text>
<line x1="662.70" y1="284.10" x2="664.70" y2="284.10" stroke="#000" stroke-width="0.8"/>
<text x="666.80" y="288.10" font-size="11.5" fill="#ddd4cf" text-anchor="start">1</text>
<line x1="662.70" y1="313.90" x2="664.70" y2="313.90" stroke="#000" stroke-width="0.8"/>
<text x="666.80" y="317.90" font-size="11.5" fill="#ddd4cf" text-anchor="start">0</text>
<line x1="662.70" y1="344.40" x2="664.70" y2="344.40" stroke="#000" stroke-width="0.8"/>
<text x="666.80" y="348.40" font-size="11.5" fill="#ddd4cf" text-anchor="start">−1</text>
<line x1="662.70" y1="373.30" x2="664.70" y2="373.30" stroke="#000" stroke-width="0.8"/>
<text x="666.80" y="377.30" font-size="11.5" fill="#ddd4cf" text-anchor="start">−2</text>
</svg></body></html>
